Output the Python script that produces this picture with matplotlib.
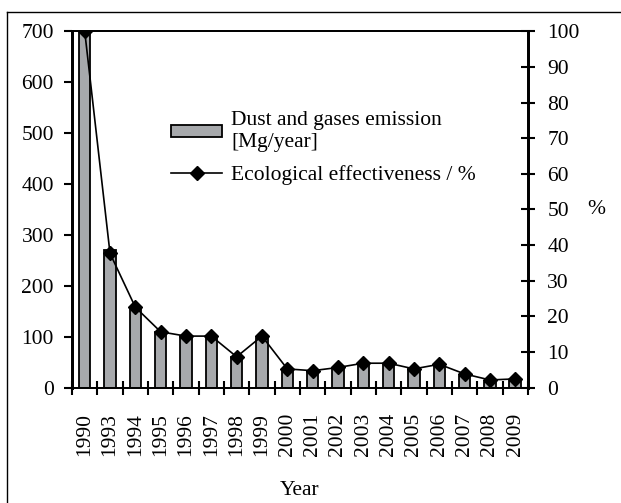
import matplotlib.pyplot as plt
from matplotlib.lines import Line2D
import numpy as np

plt.rcParams['font.family'] = ['Liberation Serif', 'DejaVu Serif']
plt.rcParams['font.size'] = 15.5

years = ['1990', '1993', '1994', '1995', '1996', '1997', '1998', '1999', '2000',
         '2001', '2002', '2003', '2004', '2005', '2006', '2007', '2008', '2009']
emission = [700, 270, 159, 110, 102, 101, 61, 97, 37, 33, 39, 46, 46, 36, 43, 24, 12, 13]
effectiveness = [100, 37.7, 22.6, 15.7, 14.5, 14.5, 8.7, 14.5, 5.3, 4.8, 5.7, 6.9, 6.9,
                 5.3, 6.6, 3.9, 2.2, 2.5]

x = np.arange(len(years)) + 0.5

fig = plt.figure(figsize=(6.21, 5.03), dpi=100)
ax = fig.add_axes([0.116, 0.229, 0.734, 0.709])
ax2 = ax.twinx()

bars = ax.bar(x, emission, width=0.45, color='#a7a9ac', edgecolor='black', linewidth=1.3,
              label='Dust and gases emission\n[Mg/year]')
line, = ax2.plot(x, effectiveness, color='black', linewidth=1.2, marker='D', markersize=7,
                 label='Ecological effectiveness / %')

ax.set_xlim(0, len(years))
ax.set_ylim(0, 700)
ax2.set_ylim(0, 100)
ax.set_yticks(range(0, 701, 100))
ax2.set_yticks(range(0, 101, 10))

ax.set_xticks(x)
ax.set_xticklabels(years, rotation=90)
ax.set_xticks(np.arange(len(years) + 1), minor=True)
ax.tick_params(axis='x', which='major', length=0, pad=18)
ax.tick_params(axis='x', which='minor', direction='inout', length=10, width=1.5)
ax.tick_params(axis='y', direction='out', length=6, width=1.5, pad=7)
ax2.tick_params(axis='y', direction='inout', length=10, width=1.5, pad=9)
ax.set_xlabel('Year', labelpad=18)
ax2.set_ylabel('%', rotation=0, labelpad=12, va='center')

for a in (ax, ax2):
    for s in a.spines.values():
        s.set_linewidth(1.3)
    a.spines['left'].set_linewidth(2)
    a.spines['right'].set_linewidth(2)

ax.legend(handles=[bars, line], loc='upper left', bbox_to_anchor=(0.193, 0.805),
          frameon=False, handlelength=2.4, handleheight=0.45, handletextpad=0.4,
          labelspacing=0.6, borderpad=0)

# frame around the figure (only top and left edges visible in the original crop)
fig.add_artist(Line2D([0.011, 0.011], [0, 0.976], color='black', linewidth=1))
fig.add_artist(Line2D([0.011, 1], [0.976, 0.976], color='black', linewidth=1))

fig.savefig('out.png', dpi=100)
